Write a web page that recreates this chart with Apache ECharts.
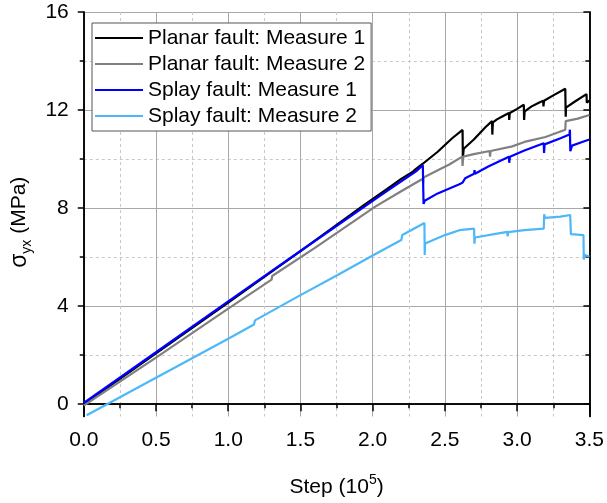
<!DOCTYPE html>
<html>
<head>
<meta charset="utf-8">
<script src="https://cdn.jsdelivr.net/npm/echarts@6/dist/echarts.min.js"></script>
<style>html,body{margin:0;padding:0;background:#fff}#c{width:607px;height:503px}</style>
</head>
<body>
<div id="c"></div>
<script>
// Data: [step (1e5), sigma_yx (MPa)]
var seriesNames = ['Planar fault: Measure 1', 'Planar fault: Measure 2', 'Splay fault: Measure 1', 'Splay fault: Measure 2'];
var planar1 = [[0,0],[0.5,2.08],[1.0,4.15],[1.5,6.25],[1.934,8.1],[2.1,8.78],[2.2,9.2],[2.25,9.38],[2.28,9.5],[2.3,9.6],[2.347,9.81],[2.45,10.3],[2.55,10.85],[2.622,11.19],[2.624,10.05],[2.63,10.42],[2.7,10.8],[2.78,11.3],[2.826,11.55],[2.828,11.0],[2.832,11.5],[2.86,11.62],[2.9,11.75],[2.943,11.88],[2.945,11.6],[2.949,11.88],[3.0,12.05],[3.046,12.22],[3.048,11.6],[3.052,11.95],[3.1,12.15],[3.15,12.3],[3.18,12.38],[3.182,12.15],[3.186,12.38],[3.25,12.6],[3.333,12.87],[3.336,11.73],[3.338,12.1],[3.4,12.35],[3.48,12.65],[3.482,12.3],[3.5,12.38]];
var planar2 = [[0,-0.05],[0.5,1.9],[1.0,3.9],[1.3,5.08],[1.304,5.23],[1.6,6.38],[2.015,8.05],[2.2,8.7],[2.347,9.2],[2.349,9.0],[2.352,9.25],[2.485,9.65],[2.53,9.78],[2.62,10.1],[2.622,9.72],[2.626,10.1],[2.7,10.2],[2.81,10.33],[2.812,10.1],[2.816,10.33],[2.966,10.52],[3.05,10.7],[3.196,10.9],[3.333,11.2],[3.336,11.55],[3.42,11.65],[3.5,11.8]];
var splay1 = [[0,0.05],[0.5,2.12],[1.0,4.2],[1.5,6.25],[2.05,8.5],[2.2,9.1],[2.3,9.5],[2.347,9.75],[2.352,8.17],[2.36,8.3],[2.45,8.6],[2.6,8.97],[2.622,9.04],[2.64,9.22],[2.702,9.4],[2.705,9.55],[2.708,9.4],[2.8,9.7],[2.943,10.1],[2.945,9.85],[2.95,10.1],[3.05,10.35],[3.184,10.65],[3.186,10.25],[3.19,10.6],[3.3,10.85],[3.362,11.0],[3.365,11.2],[3.368,10.32],[3.38,10.55],[3.45,10.7],[3.5,10.8]];
var splay2 = [[0.02,-0.45],[0.5,1.08],[1.0,2.67],[1.178,3.25],[1.185,3.42],[1.5,4.45],[1.751,5.25],[2.0,6.07],[2.198,6.7],[2.205,6.9],[2.358,7.39],[2.36,6.09],[2.363,6.56],[2.5,6.9],[2.6,7.1],[2.702,7.16],[2.704,6.55],[2.708,6.8],[2.85,6.95],[2.932,7.03],[2.934,6.85],[2.938,7.02],[3.05,7.1],[3.184,7.16],[3.187,7.75],[3.192,7.6],[3.3,7.65],[3.367,7.72],[3.369,7.8],[3.372,6.94],[3.459,6.9],[3.461,5.9],[3.466,6.1],[3.5,6.02]];
var yMajorTicks = [0, 4, 8, 12, 16];
var yMinorTicks = [2, 6, 10, 14];
var xMin = 0, xMax = 3.5, xStep = 0.5;
var yMin = -0.5, yMax = 16;

var colors = ['#000000', '#808080', '#0000ff', '#4db8f8'];
var font = 'Liberation Sans, Arial, Helvetica, sans-serif';
var axisLineStyle = {color: '#000', width: 1.5};

var chart = echarts.init(document.getElementById('c'), null, {renderer: 'canvas'});
var option = {
  animation: false,
  backgroundColor: '#fff',
  textStyle: {fontFamily: font},
  grid: {left: 82, right: 16, top: 12, bottom: 81, containLabel: false},
  legend: {
    orient: 'vertical', left: 92, top: 23,
    padding: [4, 6, 4, 3],
    icon: 'rect',
    itemWidth: 48, itemHeight: 2, itemGap: 4,
    backgroundColor: '#fff', borderColor: '#555', borderWidth: 1, borderRadius: 0,
    textStyle: {fontSize: 21, lineHeight: 22, color: '#000', fontFamily: font},
    data: seriesNames
  },
  xAxis: [
    {
      type: 'value', position: 'bottom', min: xMin, max: xMax, interval: xStep,
      axisLine: {show: true, lineStyle: axisLineStyle},
      axisTick: {show: true, inside: false, length: 7, lineStyle: axisLineStyle},
      minorTick: {show: true, splitNumber: 2, length: 4, lineStyle: axisLineStyle},
      axisLabel: {formatter: function (v) { return v.toFixed(1); }, fontSize: 21, color: '#000', margin: 13, fontFamily: font},
      splitLine: {show: true, lineStyle: {color: '#a8a8a8', width: 1}},
      minorSplitLine: {show: true, lineStyle: {color: '#c8c8c8', width: 1, type: [3, 3]}},
      name: '{a|Step (10}{sup|5}{a|)}', nameLocation: 'middle', nameGap: 57,
      nameTextStyle: {fontSize: 21, color: '#000', fontFamily: font,
        rich: {a: {fontSize: 21, lineHeight: 28, color: '#000', fontFamily: font},
               sup: {fontSize: 14, lineHeight: 16, verticalAlign: 'top', color: '#000', fontFamily: font}}}
    },
    {
      type: 'value', position: 'top', min: xMin, max: xMax, interval: xStep,
      axisLine: {show: true, lineStyle: axisLineStyle},
      axisTick: {show: true, inside: true, length: 6, lineStyle: axisLineStyle},
      minorTick: {show: true, splitNumber: 2, length: 4, lineStyle: axisLineStyle},
      axisLabel: {show: false},
      splitLine: {show: false}
    }
  ],
  yAxis: [
    {
      type: 'value', position: 'left', min: yMin, max: yMax,
      axisLine: {show: true, onZero: false, lineStyle: axisLineStyle},
      axisTick: {show: true, inside: false, length: 6, customValues: yMajorTicks, lineStyle: axisLineStyle},
      axisLabel: {customValues: yMajorTicks, fontSize: 21, color: '#000', margin: 15, fontFamily: font},
      splitLine: {show: true, lineStyle: {color: '#a8a8a8', width: 1}},
      name: '{s|σ}{sub|yx}{a| (MPa)}', nameLocation: 'middle', nameGap: 40,
      nameTextStyle: {fontSize: 21, color: '#000', fontFamily: font, padding: [0, 0, 0, -16],
        rich: {s: {fontSize: 23, lineHeight: 30, color: '#000', fontFamily: font},
               a: {fontSize: 21, lineHeight: 30, color: '#000', fontFamily: font},
               sub: {fontSize: 14, lineHeight: 16, verticalAlign: 'bottom', color: '#000', fontFamily: font}}}
    },
    {
      type: 'value', position: 'left', min: yMin, max: yMax,
      axisLine: {show: true, onZero: false, lineStyle: axisLineStyle},
      axisTick: {show: true, inside: false, length: 4, customValues: yMinorTicks, lineStyle: axisLineStyle},
      axisLabel: {show: false, customValues: yMinorTicks},
      splitLine: {show: true, lineStyle: {color: '#c8c8c8', width: 1, type: [3, 3]}}
    },
    {
      type: 'value', position: 'right', min: yMin, max: yMax,
      axisLine: {show: true, onZero: false, lineStyle: axisLineStyle},
      axisTick: {show: true, inside: true, length: 6, customValues: yMajorTicks, lineStyle: axisLineStyle},
      axisLabel: {show: false, customValues: yMajorTicks},
      splitLine: {show: false}
    },
    {
      type: 'value', position: 'right', min: yMin, max: yMax,
      axisLine: {show: true, onZero: false, lineStyle: axisLineStyle},
      axisTick: {show: true, inside: true, length: 4, customValues: yMinorTicks, lineStyle: axisLineStyle},
      axisLabel: {show: false, customValues: yMinorTicks},
      splitLine: {show: false}
    }
  ],
  series: [planar1, planar2, splay1, splay2].map(function (d, i) {
    return {
      name: seriesNames[i], type: 'line', data: d, xAxisIndex: 0, yAxisIndex: 0,
      symbol: 'none', showSymbol: false,
      lineStyle: {color: colors[i], width: 2.2},
      itemStyle: {color: colors[i]},
      z: 2 + i
    };
  })
};
chart.setOption(option);
</script>
</body>
</html>
